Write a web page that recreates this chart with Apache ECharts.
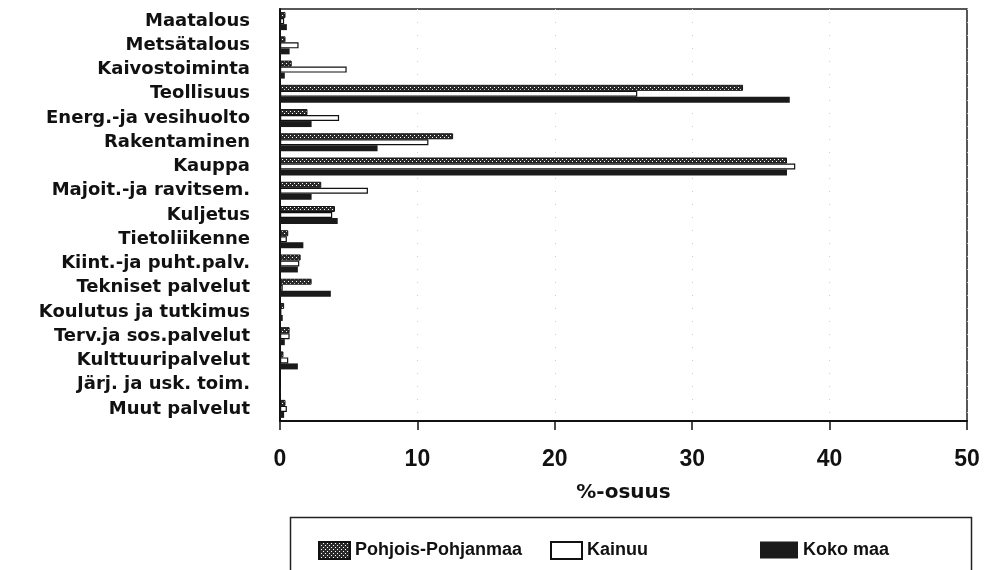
<!DOCTYPE html>
<html><head><meta charset="utf-8">
<script src="https://cdn.jsdelivr.net/npm/echarts@6/dist/echarts.min.js"></script>
<style>html,body{margin:0;padding:0;background:#fff}#c{width:989px;height:570px}</style>
</head><body><div id="c"></div>
<script>
const categories = ['Maatalous','Metsätalous','Kaivostoiminta','Teollisuus','Energ.-ja vesihuolto','Rakentaminen','Kauppa','Majoit.-ja ravitsem.','Kuljetus','Tietoliikenne','Kiint.-ja puht.palv.','Tekniset palvelut','Koulutus ja tutkimus','Terv.ja sos.palvelut','Kulttuuripalvelut','Järj. ja usk. toim.','Muut palvelut'];
const seriesNames = ['Pohjois-Pohjanmaa','Kainuu','Koko maa'];
const pohjoisPohjanmaa = [0.4,0.4,0.85,33.7,2.0,12.6,36.9,3.0,4.0,0.6,1.5,2.3,0.3,0.7,0.25,0.05,0.4];
const kainuu           = [0.3,1.35,4.85,26.0,4.3,10.8,37.5,6.4,3.8,0.5,1.4,0.2,0.1,0.7,0.6,0.0,0.5];
const kokoMaa          = [0.5,0.7,0.35,37.1,2.3,7.1,36.9,2.3,4.2,1.7,1.3,3.7,0.2,0.35,1.3,0.05,0.3];
const xTicks = [0,10,20,30,40,50];

function makePattern(){
  const c=document.createElement('canvas'); c.width=4; c.height=4;
  const g=c.getContext('2d');
  g.fillStyle='#2b2b2b'; g.fillRect(0,0,4,4);
  g.fillStyle='#ffffff'; g.fillRect(0,1,1,1); g.fillRect(2,3,1,1);
  return c;
}
const pat = {image: makePattern(), repeat: 'repeat'};
const FONT = 'Liberation Sans';
const LFONT = 'DejaVu Sans';

const chart = echarts.init(document.getElementById('c'), null, {renderer:'canvas'});
const styles = [
  {color: pat, borderColor:'#111', borderWidth:1},
  {color: '#ffffff', borderColor:'#111', borderWidth:1.2},
  {color: '#1a1a1a', borderColor:'#111', borderWidth:0}
];
const dataArr = [pohjoisPohjanmaa, kainuu, kokoMaa];
const legendLefts = [313, 545, 755];
const legendWidths = [31, 31, 38];
chart.setOption({
  animation:false,
  backgroundColor:'#fff',
  grid:{left:280, right:22, top:9, bottom:149, show:true, borderColor:'#222', borderWidth:1.5},
  xAxis:{type:'value', min:xTicks[0], max:xTicks[xTicks.length-1], interval:10,
    name:'%-osuus', nameLocation:'middle', nameGap:62,
    nameTextStyle:{fontFamily:LFONT, fontWeight:'bold', fontSize:20, color:'#111'},
    axisLine:{show:true, lineStyle:{color:'#111', width:2}},
    axisTick:{show:true, length:9, lineStyle:{color:'#111', width:1.5}},
    axisLabel:{fontFamily:FONT, fontWeight:'bold', fontSize:23, color:'#111', margin:27},
    splitLine:{show:true, lineStyle:{color:'#ccc', type:[1,12], width:1}}
  },
  yAxis:{type:'category', data:categories, inverse:true,
    axisLine:{show:true, lineStyle:{color:'#111', width:2}},
    axisTick:{show:false},
    axisLabel:{fontFamily:LFONT, fontWeight:'bold', fontSize:18, color:'#111', margin:30}
  },
  legend: seriesNames.map((n,i)=>({
    data:[n], left:legendLefts[i], top:536, itemWidth:legendWidths[i], itemHeight:17, icon:'rect', itemGap:6,
    textStyle:{fontFamily:FONT, fontWeight:'bold', fontSize:18, color:'#111'},
    selectedMode:false
  })),
  graphic:[{type:'rect', left:288, top:515, shape:{width:681, height:80},
    style:{fill:'none', stroke:'#222', lineWidth:1.5}, silent:true}],
  series: seriesNames.map((n,i)=>({
    name:n, type:'bar', data:dataArr[i], barWidth:6, barGap:'0%',
    itemStyle:styles[i]
  }))
});
</script></body></html>
